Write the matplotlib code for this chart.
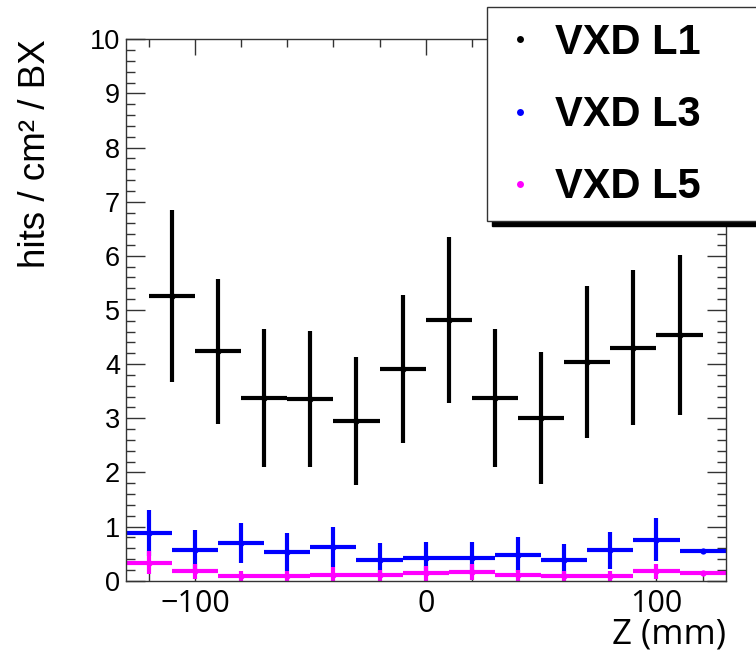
import matplotlib
matplotlib.use('Agg')
import matplotlib.pyplot as plt
from matplotlib.lines import Line2D
from matplotlib.patches import Rectangle
import numpy as np

# ---- data ----
z_l1 = [-110, -90, -70, -50, -30, -10, 10, 30, 50, 70, 90, 110]
l1 = [5.26, 4.24, 3.37, 3.36, 2.95, 3.91, 4.82, 3.37, 3.00, 4.04, 4.30, 4.54]
l1_err = [1.59, 1.34, 1.27, 1.26, 1.19, 1.37, 1.53, 1.27, 1.22, 1.40, 1.43, 1.48]

z_l35 = [-120, -100, -80, -60, -40, -20, 0, 20, 40, 60, 80, 100, 120]
l3 = [0.88, 0.56, 0.70, 0.53, 0.62, 0.39, 0.41, 0.41, 0.48, 0.38, 0.56, 0.76, 0.54]
l3_err = [0.42, 0.37, 0.37, 0.35, 0.37, 0.30, 0.30, 0.31, 0.32, 0.29, 0.34, 0.40, 0.02]
l5 = [0.33, 0.17, 0.08, 0.08, 0.11, 0.10, 0.14, 0.16, 0.10, 0.09, 0.08, 0.17, 0.14]
l5_err = [0.21, 0.14, 0.09, 0.09, 0.14, 0.10, 0.14, 0.14, 0.10, 0.09, 0.09, 0.14, 0.02]
bin_half = 10

labels = ["VXD L1", "VXD L3", "VXD L5"]
colors = ["black", "#0000ff", "#ff00ff"]

fig = plt.figure(figsize=(7.56, 6.58), dpi=100)
ax = fig.add_axes([0.1663, 0.1175, 0.7936, 0.8228])

ekw = dict(fmt='o', ms=4.5, elinewidth=3, capsize=0, mew=0)
ax.errorbar(z_l35, l3, xerr=bin_half, yerr=l3_err, color=colors[1], **ekw)
ax.errorbar(z_l35, l5, xerr=bin_half, yerr=l5_err, color=colors[2], **ekw)
ax.errorbar(z_l1, l1, xerr=bin_half, yerr=l1_err, color=colors[0], **ekw)

ax.set_xlim(-130, 130)
ax.set_ylim(0, 10)
ax.set_xticks([-100, 0, 100])
ax.set_xticks(np.arange(-120, 121, 20), minor=True)
ax.set_yticks(np.arange(0, 11, 1))
ax.set_yticks(np.arange(0, 10.01, 0.2), minor=True)
ax.set_xticklabels(["\u2212100", "0", "100"], family='Open Sans', fontsize=22)
ax.set_yticklabels([str(i) for i in range(11)], family='Liberation Sans', fontsize=19.5)

ax.tick_params(which='both', direction='in', top=True, right=True, width=1, color='#333333')
ax.tick_params(axis='x', which='major', length=11.5, pad=6)
ax.tick_params(axis='x', which='minor', length=5.8)
ax.tick_params(axis='y', which='major', length=13.7, pad=4)
ax.tick_params(axis='y', which='minor', length=6.5)
for s in ax.spines.values():
    s.set_linewidth(1)
    s.set_color('#333333')

ax.set_ylabel("hits / cm\u00b2 / BX", family='Liberation Sans', fontsize=26.5, loc='top')
ax.yaxis.set_label_coords(-0.122, 1.0)
ax.set_xlabel("Z (mm)", family='Open Sans', fontsize=25, loc='right')
ax.xaxis.set_label_coords(1.0, -0.068)

# legend box with ROOT-style shadow
W, H = 756, 658
shadow = Rectangle((492 / W, 1 - 226 / H), 0.4, (221 - 7) / H, transform=fig.transFigure,
                   facecolor='black', edgecolor='black', zorder=3)
box = Rectangle((487 / W, 1 - 221 / H), 0.4, (221 - 7) / H, transform=fig.transFigure,
                facecolor='white', edgecolor='#333333', lw=1, zorder=3.1)
fig.add_artist(shadow)
fig.add_artist(box)

handles = [Line2D([], [], marker='o', ls='none', color=c, ms=5, mew=0) for c in colors]
leg = fig.legend(handles, labels, loc='upper left', bbox_to_anchor=(503 / W, 1 - 23 / H),
                 frameon=False, prop=dict(family='Liberation Sans', weight='bold', size=30),
                 handlelength=0.8, handletextpad=0.45, labelspacing=0.77,
                 borderpad=0, borderaxespad=0)
leg.set_zorder(5)

fig.savefig('out.png', dpi=100)
